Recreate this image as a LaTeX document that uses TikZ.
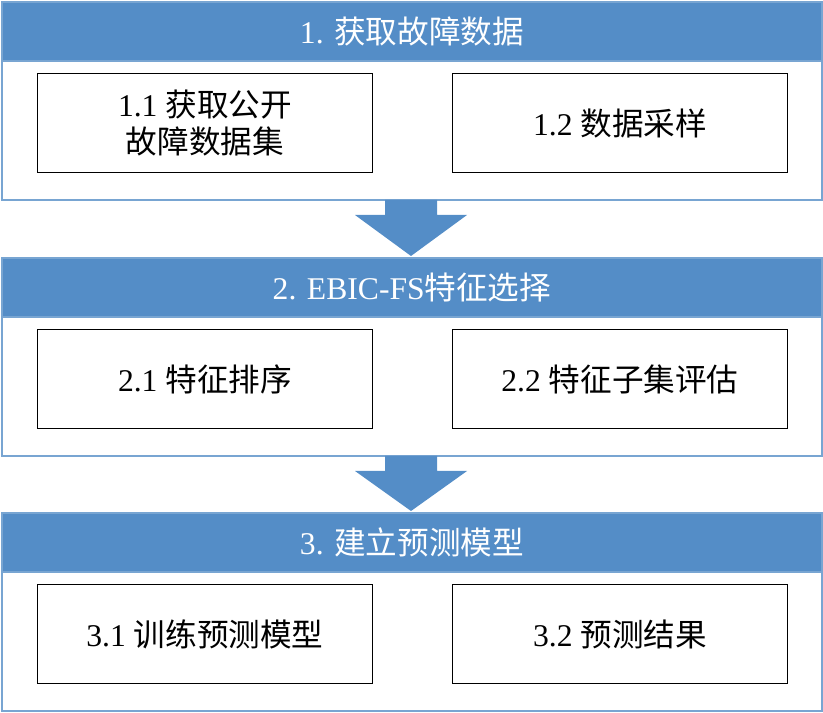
\documentclass[tikz,border=0pt]{standalone}
\usepackage{fontspec}
\setmainfont{Liberation Serif}
\newfontfamily\cjk{Noto Sans CJK SC}
\usetikzlibrary{positioning}
\definecolor{bandblue}{RGB}{84,141,199}
\definecolor{frameblue}{RGB}{120,165,210}
\tikzset{
  stage/.style={draw=frameblue, line width=1.2pt, minimum width=16.4cm, minimum height=3.96cm, anchor=north west},
  band/.style={fill=bandblue, draw=frameblue, line width=1.2pt, minimum width=16.4cm, minimum height=1.18cm, anchor=north west, text=white, font=\fontsize{18}{21}\selectfont},
  task/.style={draw=black, line width=1pt, minimum width=6.7cm, minimum height=1.98cm, align=center, font=\fontsize{18}{21}\selectfont},
  flow/.style={fill=bandblue}
}
\begin{document}
\begin{tikzpicture}[x=0.02cm, y=-0.02cm]
\useasboundingbox (0,0) rectangle (823,713);
% stage 1
\node[stage] (s1) at (1,1) {};
\node[band] (h1) at (1,1) {1. {\cjk 获取故障数据}};
\node[task] (t11) at (205,123) {1.1 {\cjk 获取公开}\\{\cjk 故障数据集}};
\node[task] (t12) at (620,123) {1.2 {\cjk 数据采样}};
% stage 2
\node[stage] (s2) at (1,257) {};
\node[band] (h2) at (1,257) {2. EBIC-FS{\cjk 特征选择}};
\node[task] (t21) at (205,379) {2.1 {\cjk 特征排序}};
\node[task] (t22) at (620,379) {2.2 {\cjk 特征子集评估}};
% stage 3
\node[stage] (s3) at (1,512) {};
\node[band] (h3) at (1,512) {3. {\cjk 建立预测模型}};
\node[task] (t31) at (205,634) {3.1 {\cjk 训练预测模型}};
\node[task] (t32) at (620,634) {3.2 {\cjk 预测结果}};
% arrows
\foreach \top/\tip in {200/256,456/511}
  \fill[flow] (385,\top) -- (437,\top) -- (437,\top+15) -- (467,\top+15)
    -- (411,\tip) -- (355,\top+15) -- (385,\top+15) -- cycle;
\end{tikzpicture}
\end{document}
